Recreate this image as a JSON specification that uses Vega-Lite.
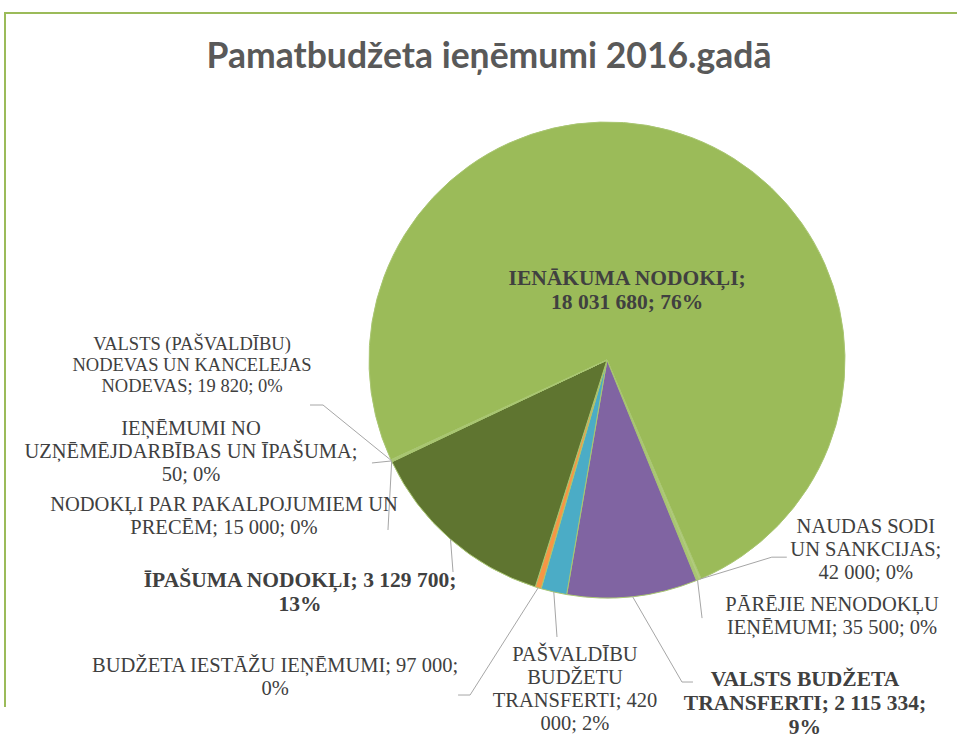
{
  "$schema": "https://vega.github.io/schema/vega-lite/v6.json",
  "width": 1204,
  "height": 694,
  "autosize": {"type": "none"},
  "padding": {"left": 5, "top": 13, "right": -252, "bottom": 33},
  "background": "white",
  "config": {
    "view": {"stroke": "#9BBB59", "strokeWidth": 2, "strokeDash": [1898, 1204, 694]}
  },
  "title": {
    "text": "Pamatbudžeta ieņēmumi 2016.gadā",
    "font": "Lato",
    "fontSize": 35.5,
    "fontWeight": "bold",
    "color": "#595959",
    "anchor": "middle",
    "frame": "group",
    "offset": 0,
    "baseline": "alphabetic",
    "dx": -118,
    "dy": 90
  },
  "data": {
    "values": [
      {"cat": "IENĀKUMA NODOKĻI", "value": 18031680, "label": ["IENĀKUMA  NODOKĻI;", "18 031 680; 76%"]},
      {"cat": "NAUDAS SODI UN SANKCIJAS", "value": 42000, "label": ["NAUDAS  SODI", "UN SANKCIJAS;", "42 000; 0%"]},
      {"cat": "PĀRĒJIE NENODOKĻU IEŅĒMUMI", "value": 35500, "label": ["PĀRĒJIE NENODOKĻU", "IEŅĒMUMI;  35 500; 0%"]},
      {"cat": "VALSTS BUDŽETA TRANSFERTI", "value": 2115334, "label": ["VALSTS  BUDŽETA", "TRANSFERTI;  2 115 334;", "9%"]},
      {"cat": "PAŠVALDĪBU BUDŽETU TRANSFERTI", "value": 420000, "label": ["PAŠVALDĪBU", "BUDŽETU", "TRANSFERTI;  420", "000; 2%"]},
      {"cat": "BUDŽETA IESTĀŽU IEŅĒMUMI", "value": 97000, "label": ["BUDŽETA  IESTĀŽU  IEŅĒMUMI; 97 000;", "0%"]},
      {"cat": "ĪPAŠUMA NODOKĻI", "value": 3129700, "label": ["ĪPAŠUMA  NODOKĻI; 3 129 700;", "13%"]},
      {"cat": "NODOKĻI PAR PAKALPOJUMIEM UN PRECĒM", "value": 15000, "label": ["NODOKĻI PAR PAKALPOJUMIEM UN", "PRECĒM; 15 000; 0%"]},
      {"cat": "IEŅĒMUMI NO UZŅĒMĒJDARBĪBAS UN ĪPAŠUMA", "value": 50, "label": ["IEŅĒMUMI NO", "UZŅĒMĒJDARBĪBAS  UN ĪPAŠUMA;", "50; 0%"]},
      {"cat": "VALSTS (PAŠVALDĪBU) NODEVAS UN KANCELEJAS NODEVAS", "value": 19820, "label": ["VALSTS (PAŠVALDĪBU)", "NODEVAS UN KANCELEJAS", "NODEVAS; 19 820; 0%"]}
    ]
  },
  "transform": [
    {"window": [{"op": "row_number", "as": "idx"}]},
    {"joinaggregate": [{"op": "sum", "field": "value", "as": "total"}]},
    {"window": [{"op": "sum", "field": "value", "as": "cum"}], "sort": [{"field": "idx"}], "frame": [null, 0]},
    {"calculate": "4.2795 + 2*PI*(datum.cum - datum.value/2)/datum.total", "as": "ang"},
    {"calculate": "238*sin(datum.ang)", "as": "ax"},
    {"calculate": "-238*cos(datum.ang)", "as": "ay"},
    {"calculate": "datum.ax + [-65, 166, 134.5, 172.4, 21.2, -263.1, -150.5, -167.7, -200.5, -199.2][datum.idx-1]", "as": "lx"},
    {"calculate": "datum.ay + [153.2, -29.2, 36.4, 106.4, 98, 89.7, 53.2, 55.1, -9, -93.9][datum.idx-1] - (length(datum.label) - 1) * 23 / 2", "as": "ly"},
    {"calculate": "[null, 72, 4.5, 49.4, 3.2, -68.1, 2.5, -3.7, -19.5, -68.2][datum.idx-1]", "as": "ex0"},
    {"calculate": "[null, -22, 38, 85.4, 45, 107.2, 32.7, 68.6, 2, -55.4][datum.idx-1]", "as": "ey0"},
    {"calculate": "[null, 87, null, 60.4, null, -80.1, null, null, null, -81.2][datum.idx-1]", "as": "fx0"},
    {"calculate": "datum.ex0 == null ? null : datum.ax + datum.ex0", "as": "ex"},
    {"calculate": "datum.ey0 == null ? null : datum.ay + datum.ey0", "as": "ey"},
    {"calculate": "datum.fx0 == null ? null : datum.ax + datum.fx0", "as": "fx"}
  ],
  "layer": [
    {
      "mark": {"type": "arc", "outerRadius": 238, "stroke": "#A9C672", "strokeWidth": 1},
      "encoding": {
        "theta": {"field": "value", "type": "quantitative", "stack": true, "scale": {"range": [4.2795, 10.5627]}},
        "order": {"field": "idx", "type": "quantitative"},
        "color": {
          "field": "cat",
          "type": "nominal",
          "legend": null,
          "scale": {
            "domain": ["IENĀKUMA NODOKĻI", "NAUDAS SODI UN SANKCIJAS", "PĀRĒJIE NENODOKĻU IEŅĒMUMI", "VALSTS BUDŽETA TRANSFERTI", "PAŠVALDĪBU BUDŽETU TRANSFERTI", "BUDŽETA IESTĀŽU IEŅĒMUMI", "ĪPAŠUMA NODOKĻI", "NODOKĻI PAR PAKALPOJUMIEM UN PRECĒM", "IEŅĒMUMI NO UZŅĒMĒJDARBĪBAS UN ĪPAŠUMA", "VALSTS (PAŠVALDĪBU) NODEVAS UN KANCELEJAS NODEVAS"],
            "range": ["#9BBB59", "#B2CB7F", "#A9C672", "#8064A2", "#4BACC6", "#F79646", "#5F7530", "#A9C672", "#B2CB7F", "#A9C672"]
          }
        }
      }
    },
    {
      "transform": [{"filter": "datum.ex != null"}],
      "mark": {"type": "rule", "color": "#A6A6A6", "strokeWidth": 1},
      "encoding": {
        "x": {"field": "ax", "type": "quantitative", "axis": null, "scale": {"domain": [-602, 602], "range": [0, 1204], "nice": false, "zero": false}},
        "y": {"field": "ay", "type": "quantitative", "axis": null, "scale": {"domain": [-347, 347], "range": [0, 694], "nice": false, "zero": false}},
        "x2": {"field": "ex"},
        "y2": {"field": "ey"}
      }
    },
    {
      "transform": [{"filter": "datum.fx != null"}],
      "mark": {"type": "rule", "color": "#A6A6A6", "strokeWidth": 1},
      "encoding": {
        "x": {"field": "ex", "type": "quantitative"},
        "y": {"field": "ey", "type": "quantitative"},
        "x2": {"field": "fx"}
      }
    },
    {
      "transform": [{"filter": "datum.idx == 2 || datum.idx == 3 || datum.idx == 5 || datum.idx == 6 || datum.idx == 8 || datum.idx == 9"}],
      "mark": {"type": "text", "font": "Liberation Serif", "fontSize": 20.5, "color": "#404040", "align": "center", "baseline": "middle", "lineHeight": 23},
      "encoding": {
        "x": {"field": "lx", "type": "quantitative"},
        "y": {"field": "ly", "type": "quantitative"},
        "text": {"field": "label"}
      }
    },
    {
      "transform": [{"filter": "datum.idx == 10"}],
      "mark": {"type": "text", "font": "Liberation Serif", "fontSize": 18.5, "color": "#404040", "align": "center", "baseline": "middle", "lineHeight": 21},
      "encoding": {
        "x": {"field": "lx", "type": "quantitative"},
        "y": {"field": "ly", "type": "quantitative"},
        "text": {"field": "label"}
      }
    },
    {
      "transform": [{"filter": "datum.idx == 1 || datum.idx == 4 || datum.idx == 7"}],
      "mark": {"type": "text", "font": "Liberation Serif", "fontSize": 21.5, "fontWeight": "bold", "color": "#404040", "align": "center", "baseline": "middle", "lineHeight": 24},
      "encoding": {
        "x": {"field": "lx", "type": "quantitative"},
        "y": {"field": "ly", "type": "quantitative"},
        "text": {"field": "label"}
      }
    }
  ]
}
